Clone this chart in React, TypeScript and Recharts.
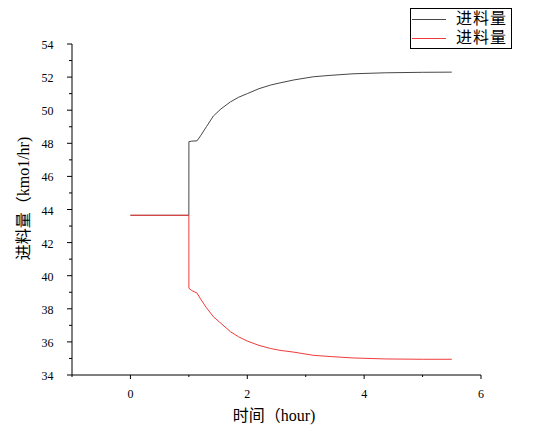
import { LineChart, Line, XAxis, YAxis, Legend } from "recharts";

// time (hour)
const time = [
  0, 1, 1.001, 1.05, 1.14, 1.2, 1.3, 1.42, 1.55, 1.71, 1.85, 2.0, 2.2, 2.4,
  2.56, 2.8, 3.13, 3.4, 3.81, 4.36, 5.0, 5.5,
];
// 进料量 (rising series)
const feedUp = [
  43.65, 43.65, 48.1, 48.13, 48.15, 48.45, 49.0, 49.65, 50.08, 50.5, 50.78,
  51.0, 51.3, 51.52, 51.65, 51.83, 52.02, 52.1, 52.2, 52.26, 52.29, 52.3,
];
// 进料量 (falling series)
const feedDown = [
  43.65, 43.65, 39.24, 39.1, 38.95, 38.6, 38.07, 37.52, 37.12, 36.62, 36.31,
  36.05, 35.79, 35.6, 35.49, 35.38, 35.19, 35.12, 35.03, 34.97, 34.95, 34.95,
];

const xTicks = [-1, 0, 1, 2, 3, 4, 5, 6];
const yTicks = [
  34, 35, 36, 37, 38, 39, 40, 41, 42, 43, 44, 45, 46, 47, 48, 49, 50, 51, 52,
  53, 54,
];
const seriesName = "进料量";
const xLabel = "时间（hour)";
const yLabel = "进料量（kmo1/hr)";

const BLACK = "#474747";
const RED = "#ef3b3b";
const FONT = "'Liberation Serif', 'Noto Sans CJK SC', serif";

const data = time.map((t, i) => ({ t, up: feedUp[i], down: feedDown[i] }));

function XTick(props: any) {
  const { x, y, payload } = props;
  const major = payload.value % 2 === 0;
  return (
    <g>
      <line x1={x} x2={x} y1={y} y2={y + (major ? 4 : 2)} stroke="#000" />
      {major && (
        <text x={x} y={y + 23} textAnchor="middle" fontSize={12} fontFamily={FONT} fill="#000">
          {payload.value}
        </text>
      )}
    </g>
  );
}

function YTick(props: any) {
  const { x, y, payload } = props;
  const major = payload.value % 2 === 0;
  return (
    <g>
      <line x1={x - (major ? 5 : 3)} x2={x} y1={y} y2={y} stroke="#000" />
      {major && (
        <text x={x - 18.5} y={y + 5} textAnchor="end" fontSize={12} fontFamily={FONT} fill="#000">
          {payload.value}
        </text>
      )}
    </g>
  );
}

function LegendBox() {
  const rows = [
    { color: BLACK, top: 11 },
    { color: RED, top: 29.5 },
  ];
  return (
    <div
      style={{
        position: "relative",
        width: 100,
        height: 39,
        border: "1px solid #000",
        background: "#fff",
      }}
    >
      {rows.map((r, i) => (
        <div key={i}>
          <div
            style={{
              position: "absolute",
              left: 1,
              top: r.top - 1,
              width: 34,
              height: 1,
              background: r.color,
            }}
          />
          <div
            style={{
              position: "absolute",
              left: 45,
              top: r.top - 11,
              fontSize: 16,
              lineHeight: "20px",
              letterSpacing: 1,
              fontFamily: FONT,
              color: "#000",
            }}
          >
            {seriesName}
          </div>
        </div>
      ))}
    </div>
  );
}

export default function App() {
  return (
    <div style={{ position: "absolute", left: 0, top: 0, background: "#fff" }}>
      <LineChart
        width={539}
        height={429}
        data={data}
        margin={{ top: 44, right: 58, bottom: 0, left: 0 }}
      >
        <XAxis
          dataKey="t"
          type="number"
          domain={[-1, 6]}
          ticks={xTicks}
          interval={0}
          allowDataOverflow
          height={54}
          tickSize={0}
          tickMargin={0}
          tickLine={false}
          tick={<XTick />}
          axisLine={{ stroke: "#000" }}
          label={{
            content: () => (
              <text x={274} y={421} textAnchor="middle" fontSize={16} fontFamily={FONT} fill="#000">
                {xLabel}
              </text>
            ),
          }}
        />
        <YAxis
          type="number"
          domain={[34, 54]}
          ticks={yTicks}
          interval={0}
          allowDataOverflow
          width={72}
          tickSize={0}
          tickMargin={0}
          tickLine={false}
          tick={<YTick />}
          axisLine={{ stroke: "#000" }}
          label={{
            content: () => (
              <text
                x={29}
                y={198.5}
                textAnchor="middle"
                fontSize={16}
                fontFamily={FONT}
                fill="#000"
                transform="rotate(-90 29 198.5)"
              >
                {yLabel}
              </text>
            ),
          }}
        />
        <Legend
          layout="horizontal"
          verticalAlign="middle"
          align="center"
          content={() => <LegendBox />}
          wrapperStyle={{ left: 410, top: 8, width: 102, height: 41 }}
        />
        <Line
          dataKey="up"
          name={seriesName}
          stroke={BLACK}
          strokeWidth={1}
          dot={false}
          type="linear"
          isAnimationActive={false}
        />
        <Line
          dataKey="down"
          name={seriesName}
          stroke={RED}
          strokeWidth={1}
          dot={false}
          type="linear"
          isAnimationActive={false}
        />
      </LineChart>
    </div>
  );
}
